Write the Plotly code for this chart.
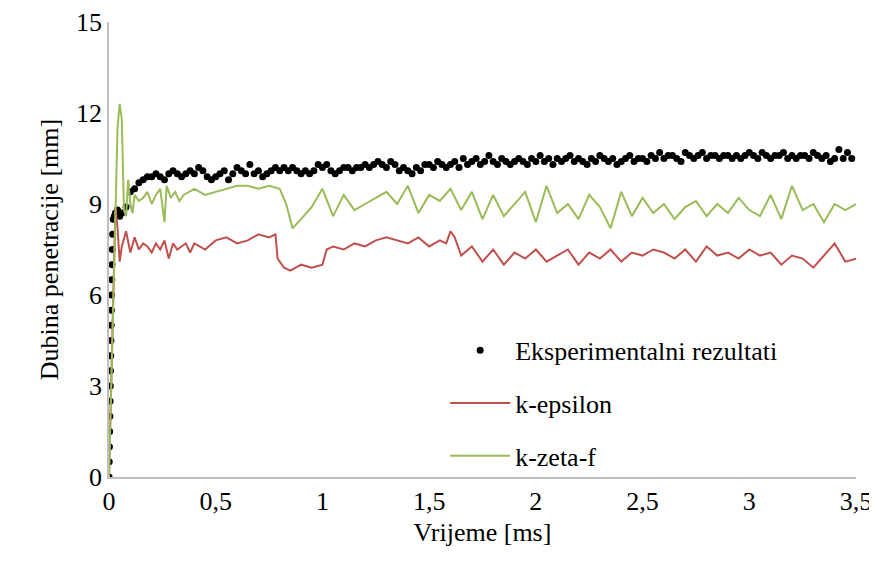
import plotly.graph_objects as go

exp_x = [0,0.001,0.002,0.003,0.004,0.005,0.006,0.007,0.008,0.009,0.010,0.011,0.012,0.013,0.014,0.015,0.017,0.02,0.025,0.03,0.04,0.05,0.06,0.08,0.1,0.12,0.14,0.16,0.18,0.2,0.22,0.24,0.26,0.28,0.3,0.32,0.34,0.36,0.38,0.4,0.42,0.44,0.46,0.48,0.5,0.52,0.54,0.56,0.58,0.6,0.62,0.64,0.66,0.68,0.7,0.72,0.74,0.76,0.78,0.8,0.82,0.84,0.86,0.88,0.9,0.92,0.94,0.96,0.98,1.0,1.02,1.04,1.06,1.08,1.1,1.12,1.14,1.16,1.18,1.2,1.22,1.24,1.26,1.28,1.3,1.32,1.34,1.36,1.38,1.4,1.42,1.44,1.46,1.48,1.5,1.52,1.54,1.56,1.58,1.6,1.62,1.64,1.66,1.68,1.7,1.72,1.74,1.76,1.78,1.8,1.82,1.84,1.86,1.88,1.9,1.92,1.94,1.96,1.98,2.0,2.02,2.04,2.06,2.08,2.1,2.12,2.14,2.16,2.18,2.2,2.22,2.24,2.26,2.28,2.3,2.32,2.34,2.36,2.38,2.4,2.42,2.44,2.46,2.48,2.5,2.52,2.54,2.56,2.58,2.6,2.62,2.64,2.66,2.68,2.7,2.72,2.74,2.76,2.78,2.8,2.82,2.84,2.86,2.88,2.9,2.92,2.94,2.96,2.98,3.0,3.02,3.04,3.06,3.08,3.1,3.12,3.14,3.16,3.18,3.2,3.22,3.24,3.26,3.28,3.3,3.32,3.34,3.36,3.38,3.4,3.42,3.44,3.46,3.48,3.5]
exp_y = [0,0.5,1.0,1.5,2.0,2.5,3.0,3.5,4.0,4.5,5.0,5.5,6.0,6.5,7.0,7.5,8.0,8.5,8.6,8.7,8.8,8.6,8.7,8.9,9.4,9.5,9.7,9.8,9.9,9.9,10.0,9.9,9.8,10.0,10.1,10.0,9.9,10.0,10.1,10.0,10.2,10.1,9.9,9.8,9.9,10.0,10.1,9.8,10.0,10.2,10.1,10.0,10.3,10.0,10.1,9.9,10.0,10.1,10.2,10.1,10.2,10.1,10.2,10.1,10.0,10.1,10.0,10.1,10.3,10.2,10.3,10.1,10.0,10.1,10.2,10.2,10.1,10.2,10.2,10.3,10.2,10.3,10.4,10.3,10.2,10.4,10.3,10.1,10.2,10.1,10.0,10.2,10.1,10.3,10.3,10.2,10.4,10.3,10.2,10.3,10.4,10.2,10.5,10.3,10.4,10.5,10.3,10.4,10.6,10.4,10.3,10.5,10.4,10.3,10.4,10.5,10.4,10.3,10.5,10.4,10.6,10.4,10.5,10.3,10.5,10.4,10.5,10.6,10.4,10.5,10.4,10.3,10.5,10.4,10.6,10.5,10.4,10.5,10.3,10.4,10.5,10.6,10.4,10.5,10.5,10.4,10.6,10.5,10.7,10.5,10.6,10.6,10.5,10.4,10.7,10.6,10.5,10.6,10.7,10.5,10.6,10.6,10.5,10.6,10.6,10.5,10.6,10.5,10.6,10.7,10.6,10.5,10.7,10.6,10.5,10.6,10.6,10.7,10.5,10.6,10.5,10.6,10.6,10.5,10.7,10.6,10.5,10.6,10.4,10.5,10.8,10.5,10.7,10.5]

ke_x = [0,0.01,0.02,0.03,0.04,0.05,0.06,0.08,0.1,0.12,0.14,0.16,0.18,0.2,0.22,0.24,0.26,0.28,0.3,0.32,0.34,0.36,0.38,0.4,0.45,0.5,0.55,0.6,0.65,0.7,0.75,0.78,0.79,0.82,0.85,0.9,0.95,1.0,1.02,1.05,1.1,1.15,1.2,1.25,1.3,1.35,1.4,1.45,1.5,1.55,1.58,1.6,1.62,1.65,1.7,1.75,1.8,1.85,1.9,1.95,2.0,2.05,2.1,2.15,2.2,2.25,2.3,2.35,2.4,2.45,2.5,2.55,2.6,2.65,2.7,2.75,2.8,2.85,2.9,2.95,3.0,3.05,3.1,3.15,3.2,3.25,3.3,3.35,3.4,3.45,3.5]
ke_y = [0,3.0,6.5,8.9,8.2,7.1,7.6,8.1,7.4,7.9,7.5,7.7,7.6,7.4,7.7,7.5,7.8,7.2,7.7,7.5,7.6,7.7,7.4,7.7,7.5,7.8,7.9,7.7,7.8,8.0,7.9,8.0,7.2,6.9,6.8,7.0,6.9,7.0,7.5,7.6,7.5,7.7,7.6,7.8,7.9,7.8,7.7,7.9,7.6,7.8,7.7,8.1,7.9,7.3,7.6,7.1,7.5,7.0,7.4,7.2,7.5,7.1,7.3,7.5,7.0,7.4,7.2,7.5,7.1,7.4,7.3,7.5,7.4,7.2,7.5,7.1,7.6,7.3,7.4,7.2,7.5,7.3,7.4,7.0,7.3,7.2,6.9,7.3,7.7,7.1,7.2]

kz_x = [0,0.02,0.04,0.05,0.06,0.07,0.08,0.09,0.1,0.11,0.12,0.14,0.16,0.18,0.2,0.22,0.24,0.26,0.27,0.29,0.31,0.33,0.35,0.4,0.45,0.5,0.55,0.6,0.65,0.7,0.75,0.8,0.83,0.86,0.9,0.95,1.0,1.05,1.1,1.15,1.2,1.25,1.3,1.35,1.4,1.45,1.5,1.55,1.6,1.65,1.7,1.75,1.8,1.85,1.9,1.95,2.0,2.05,2.1,2.15,2.2,2.25,2.3,2.35,2.4,2.45,2.5,2.55,2.6,2.65,2.7,2.75,2.8,2.85,2.9,2.95,3.0,3.05,3.1,3.15,3.2,3.25,3.3,3.35,3.4,3.45,3.5]
kz_y = [0,6.0,11.5,12.3,11.8,8.8,8.6,9.8,9.0,8.7,9.3,9.1,9.2,9.4,9.0,9.3,9.5,8.4,9.6,9.2,9.4,9.1,9.3,9.5,9.3,9.4,9.5,9.6,9.6,9.5,9.6,9.5,9.0,8.2,8.5,8.9,9.5,8.6,9.3,8.8,9.0,9.2,9.4,9.0,9.6,8.7,9.3,9.1,9.5,8.8,9.4,8.5,9.3,8.6,9.0,9.4,8.4,9.6,8.7,9.0,8.5,9.3,8.9,8.2,9.4,8.6,9.2,8.7,9.0,8.5,8.9,9.1,8.6,9.0,8.7,9.2,8.8,8.6,9.3,8.5,9.6,8.8,9.0,8.4,9.0,8.8,9.0]

x_ticks = [0,0.5,1,1.5,2,2.5,3,3.5]
x_labels = ["0","0,5","1","1,5","2","2,5","3","3,5"]
y_ticks = [0,3,6,9,12,15]

fig = go.Figure()
fig.add_trace(go.Scatter(x=exp_x, y=exp_y, mode="markers", name="Eksperimentalni rezultati",
                         legendgroup="a", marker=dict(color="black", size=7)))
fig.add_trace(go.Scatter(x=ke_x, y=ke_y, mode="lines", name="k-epsilon",
                         legendgroup="b", line=dict(color="#C0504D", width=2)))
fig.add_trace(go.Scatter(x=kz_x, y=kz_y, mode="lines", name="k-zeta-f",
                         legendgroup="c", line=dict(color="#9BBB59", width=2)))
font = dict(family="'Liberation Serif', 'DejaVu Serif', serif", size=26, color="black")
fig.update_layout(
    width=877, height=575, paper_bgcolor="white", plot_bgcolor="white",
    margin=dict(l=101, r=29, t=14, b=106), font=font,
    legend=dict(x=0.45, y=0.33, xanchor="left", yanchor="top", font=font,
                bgcolor="rgba(0,0,0,0)", tracegroupgap=16, itemwidth=60),
    xaxis=dict(range=[0,3.5], tickvals=x_ticks, ticktext=x_labels, showgrid=False,
               showline=True, linecolor="#BFBFBF", linewidth=1.5, ticks="", automargin=False,
               title=dict(text="Vrijeme [ms]", font=font, standoff=8), zeroline=False),
    yaxis=dict(range=[0,15], tickvals=y_ticks, showgrid=False, automargin=False,
               showline=True, linecolor="#BFBFBF", linewidth=1.5, ticks="",
               title=dict(text="Dubina penetracije [mm]", font=font, standoff=10), zeroline=False),
)
fig.write_html("out.html")
